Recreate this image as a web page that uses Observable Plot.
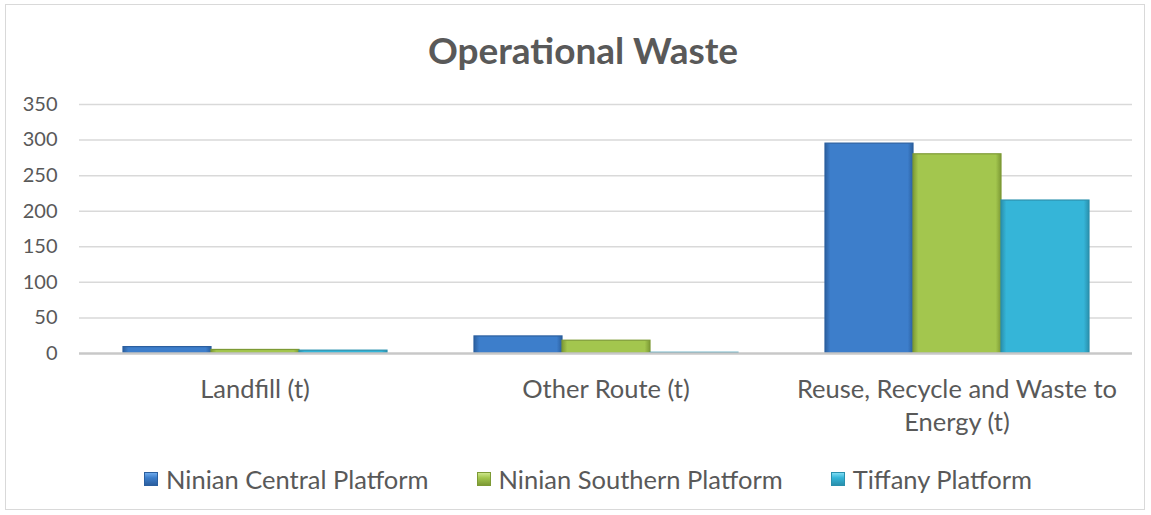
<!DOCTYPE html>
<html>
<head>
<meta charset="utf-8">
<script src="https://cdn.jsdelivr.net/npm/d3@7"></script>
<script src="https://cdn.jsdelivr.net/npm/@observablehq/plot@0.6"></script>
<style>
  html, body { margin: 0; padding: 0; background: #fff; }
  #wrap { position: relative; width: 1151px; height: 515px; font-family: Lato, "Open Sans", sans-serif; color: #595959; }
  #frame { position: absolute; left: 5px; top: 4px; width: 1140px; height: 506px; border: 1px solid #d9d9d9; box-sizing: border-box; }
  #title { position: absolute; left: 0; width: 1166px; top: 25px; text-align: center; font-size: 37px; font-weight: bold; color: #595959; line-height: 50px; }
  #chart { position: absolute; left: 0; top: 0; }
  #legend { position: absolute; left: 0; width: 1176px; top: 463px; display: flex; justify-content: center; gap: 48px; font-size: 25.5px; color: #595959; line-height: 32px; }
  .item { display: flex; align-items: center; gap: 8px; }
  .sw { width: 14px; height: 14px; box-sizing: border-box; }
</style>
</head>
<body>
<div id="wrap">
  <div id="frame"></div>
  <div id="chart"></div>
  <div id="title">Operational Waste</div>
  <div id="legend"></div>
</div>
<script>
const categories = ["Landfill (t)", "Other Route (t)", "Reuse, Recycle and Waste to Energy (t)"];
const seriesNames = ["Ninian Central Platform", "Ninian Southern Platform", "Tiffany Platform"];
const centralValues = [9, 24, 295];
const southernValues = [5, 18, 280];
const tiffanyValues = [4, 1, 215];
const yTicks = [0, 50, 100, 150, 200, 250, 300, 350];
const colors = ["#3d7ecb", "#a3c64e", "#35b5d8"];
const strokes = ["#2b5f9f", "#7d9a35", "#2a90ad"];
const lights = ["#6faaeb", "#cde58a", "#7fdcf3"];

const seriesValues = [centralValues, southernValues, tiffanyValues];
const data = [];
categories.forEach((c, i) => {
  seriesNames.forEach((s, j) => data.push({category: c, series: s, value: seriesValues[j][i]}));
});

function wrap(label) {
  if (label.length <= 28) return label;
  const words = label.split(" ");
  let line = "", lines = [];
  for (const w of words) {
    if ((line + " " + w).trim().length > 28) { lines.push(line.trim()); line = w; }
    else line += " " + w;
  }
  lines.push(line.trim());
  return lines.join("\n");
}

const chart = Plot.plot({
  width: 1151,
  height: 515,
  marginLeft: 78,
  marginRight: 18,
  marginTop: 104,
  marginBottom: 162,
  style: { fontFamily: "Lato, 'Open Sans', sans-serif", color: "#595959", background: "transparent" },
  fx: { domain: categories, padding: 0, label: null },
  x: { domain: seriesNames, paddingInner: 0, paddingOuter: 0.48, axis: null },
  y: { domain: [0, 350], ticks: yTicks, label: null },
  color: { domain: seriesNames, range: colors },
  marks: [
    Plot.gridY(yTicks.filter(d => d > 0), { stroke: "#d9d9d9", strokeOpacity: 1, strokeWidth: 1.5, facetAnchor: null }),
    Plot.axisY(yTicks, { tickSize: 0, tickPadding: 22, fontSize: 20, fill: "#595959", label: null, facetAnchor: "left" }),
    Plot.barY(data, {
      fx: "category", x: "series", y: "value",
      fill: "series",
      stroke: d => strokes[seriesNames.indexOf(d.series)],
      strokeWidth: 1.2
    }),
    Plot.ruleY([0], { stroke: "#c8c8c8", strokeWidth: 2.5, facetAnchor: null }),
    Plot.axisFx({ anchor: "bottom", tickSize: 0, tickPadding: 21, fontSize: 25.5, fill: "#595959", label: null, tickFormat: wrap, lineHeight: 1.3 })
  ]
});

// bevel-like gradients for the bars
const ns = "http://www.w3.org/2000/svg";
const defs = document.createElementNS(ns, "defs");
colors.forEach((c, j) => {
  const g = document.createElementNS(ns, "linearGradient");
  g.setAttribute("id", "grad" + j);
  g.setAttribute("x1", "0"); g.setAttribute("y1", "0");
  g.setAttribute("x2", "1"); g.setAttribute("y2", "0");
  [[0, strokes[j]], [0.06, c], [0.5, c], [0.94, c], [1, strokes[j]]].forEach(([o, col]) => {
    const s = document.createElementNS(ns, "stop");
    s.setAttribute("offset", o); s.setAttribute("stop-color", col);
    g.appendChild(s);
  });
  defs.appendChild(g);
});
chart.insertBefore(defs, chart.firstChild);
chart.querySelectorAll("rect").forEach(r => {
  const f = (r.getAttribute("fill") || "").toLowerCase();
  const j = colors.indexOf(f);
  if (j >= 0) r.setAttribute("fill", "url(#grad" + j + ")");
});
document.getElementById("chart").appendChild(chart);

const legend = document.getElementById("legend");
seriesNames.forEach((s, j) => {
  const item = document.createElement("div");
  item.className = "item";
  const sw = document.createElement("div");
  sw.className = "sw";
  sw.style.background = `linear-gradient(${lights[j]}, ${colors[j]} 40%, ${strokes[j]})`;
  sw.style.border = "1px solid " + strokes[j];
  const t = document.createElement("span");
  t.textContent = s;
  item.appendChild(sw); item.appendChild(t);
  legend.appendChild(item);
});
</script>
</body>
</html>
